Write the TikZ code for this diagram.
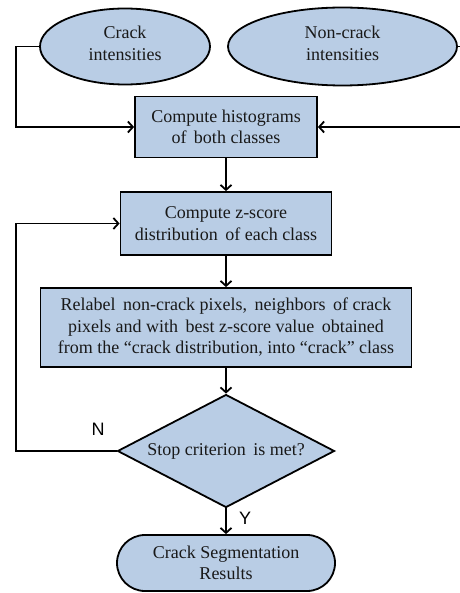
\documentclass[tikz,border=0pt]{standalone}
\usepackage{fontspec}
\setmainfont{Liberation Serif}
\newfontfamily\labfont{Liberation Sans}
\usetikzlibrary{shapes.geometric,arrows.meta}
\definecolor{boxfill}{RGB}{185,205,229}
\definecolor{txtcol}{RGB}{25,25,25}
\begin{document}
\begin{tikzpicture}[x=1pt,y=-1pt,
  base/.style={draw=black,fill=boxfill,line width=1.8pt,inner sep=0pt,align=center,
    text=txtcol,font=\fontsize{18}{21.5}\selectfont},
  ell/.style={base,ellipse},
  procbox/.style={base,rectangle},
  decide/.style={base,diamond,aspect=1.92},
  term/.style={base,rectangle,rounded corners=28pt},
  arr/.style={line width=1.8pt,-{Straight Barb[length=5pt,width=11pt,line width=1.8pt]}},
  lab/.style={font=\labfont\fontsize{18}{20}\selectfont,inner sep=0pt}]
\useasboundingbox (0,0) rectangle (459,593);
\node[ell,minimum width=170pt,minimum height=76pt] (crack) at (125,46.5) {Crack\\intensities\\[-15pt]};
\node[ell,minimum width=229pt,minimum height=78pt] (noncrack) at (342.5,46.5) {Non-crack\\intensities\\[-15pt]};
\node[procbox,minimum width=182pt,minimum height=61pt] (hist) at (226,127) {Compute histograms\\of\, both classes};
\node[procbox,minimum width=211pt,minimum height=63pt] (zbox) at (226,223.5) {Compute z-score\\distribution\, of each class};
\node[procbox,minimum width=371pt,minimum height=79pt] (relabel) at (226,327.5) {Relabel\, non-crack pixels,\, neighbors\, of crack\\pixels and with\, best z-score value\, obtained\\from the “crack distribution, into “crack” class};
\node[decide,minimum width=217pt,minimum height=113pt] (dia) at (226,451) {Stop criterion\, is met?};
\node[term,minimum width=218pt,minimum height=56pt] (res) at (226,563) {Crack Segmentation\\Results};
\coordinate (lc) at (16,46.5);
\coordinate (rc) at (475,46.5);
\coordinate (lp) at (16,451);
\draw[arr] (crack.west) -- (lc) |- (hist.west);
\draw[arr] (noncrack.east) -- (rc) |- (hist.east);
\draw[arr] (hist.south) -- (zbox.north);
\draw[arr] (zbox.south) -- (relabel.north);
\draw[arr] (relabel.south) -- (dia.north);
\draw[arr] (dia.west) -- (lp) |- (zbox.west);
\draw[arr] (dia.south) -- (res.north);
\node[lab] (nlab) at (98,429) {N};
\node[lab] (ylab) at (245,518) {Y};
\end{tikzpicture}
\end{document}
